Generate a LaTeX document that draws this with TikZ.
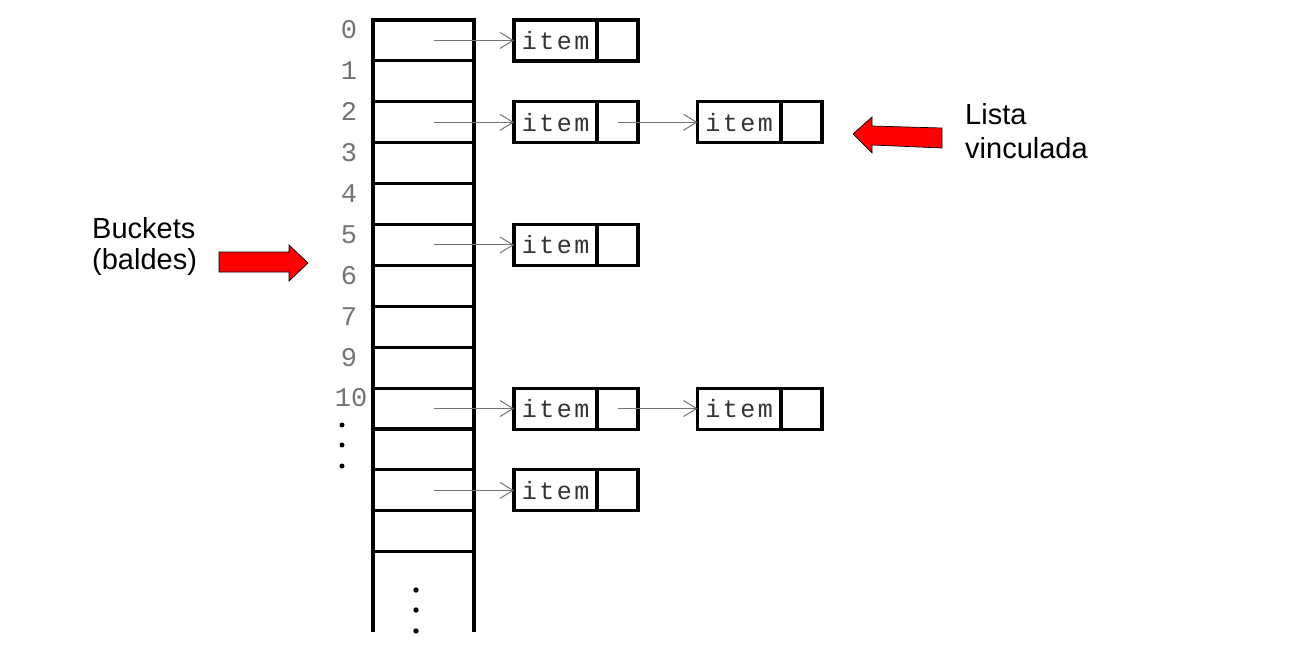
\documentclass[tikz,border=0pt]{standalone}
\usepackage{fontspec}
\setmainfont{Liberation Sans}
\newfontfamily\itemfont[LetterSpace=10]{Liberation Mono}
\newfontfamily\digitfont{Liberation Mono}
\usetikzlibrary{arrows.meta}
\begin{document}
\begin{tikzpicture}[x=1pt,y=-1pt,
  bucket/.style={draw,line width=3.1pt,minimum width=101pt,minimum height=40.9pt,inner sep=0pt,outer sep=0pt},
  tableline/.style={line width=3.1pt},
  itemcell/.style={draw,line width=3.1pt,minimum width=83pt,minimum height=41pt,inner sep=0pt,outer sep=0pt,
    font=\itemfont\fontsize{25}{25}\selectfont,text=black!80},
  ptrcell/.style={draw,line width=3.1pt,minimum width=41pt,minimum height=41pt,inner sep=0pt,outer sep=0pt},
  idx/.style={font=\digitfont\fontsize{27}{27}\selectfont,text=black!55,inner sep=0pt},
  link/.style={draw=black!55,line width=1pt,-{Straight Barb[length=13pt,width=16pt]}},
  lbl/.style={font=\fontsize{29}{33}\selectfont,inner sep=0pt,anchor=base west},
  redarrow/.style={fill=red,draw=black,line width=0.7pt,line join=miter},
  dot/.style={fill=black}]
\useasboundingbox (0,0) rectangle (1296,654);

% buckets table
\foreach \k in {0,...,12}{
  \node[bucket] (b\k) at (423.5,{40.45+40.9*\k}) {};
}
\draw[tableline] (b12.south west) -- ++(0,80);
\draw[tableline] (b12.south east) -- ++(0,80);
\fill[dot] (416,590) circle (2.7);
\fill[dot] (416,610) circle (2.7);
\fill[dot] (416,631) circle (2.7);

% indices
\foreach \k/\t in {0/0,1/1,2/2,3/3,4/4,5/5,6/6,7/7,8/9}{
  \node[idx] (l\k) at (349,{30+40.9*\k}) {\t};
}
\node[idx] (l9) at (351,398) {10};
\fill[dot] (342,425) circle (2.5);
\fill[dot] (342,445) circle (2.5);
\fill[dot] (342,466) circle (2.5);

% first column items
\foreach \k in {0,2,5,9,11}{
  \node[itemcell] (a\k) at (555.5,{40.45+40.9*\k}) {item};
  \node[ptrcell] (p\k) at (617.5,{40.45+40.9*\k}) {};
  \coordinate (s\k) at (434,{40.45+40.9*\k});
  \draw[link] (s\k) -- (a\k.west);
}
% second column items
\foreach \k in {2,9}{
  \node[itemcell] (c\k) at (739,{40.45+40.9*\k}) {item};
  \node[ptrcell] (q\k) at (801.5,{40.45+40.9*\k}) {};
  \draw[link] (p\k.center) -- (c\k.west);
}

% red arrows
\draw[redarrow] (219,252) -- (289,252) -- (289,245) -- (308,263) -- (289,281) -- (289,272) -- (219,272) -- cycle;
\draw[redarrow] (853,134) -- (872,117) -- (872,126) -- (942,128) -- (942,148) -- (872,145) -- (872,153) -- cycle;

% labels
\node[lbl] (bk1) at (92,238) {Buckets};
\node[lbl] (bk2) at (92,269) {(baldes)};
\node[lbl] (ls1) at (965,124) {Lista};
\node[lbl] (ls2) at (965,158) {vinculada};
\end{tikzpicture}
\end{document}
